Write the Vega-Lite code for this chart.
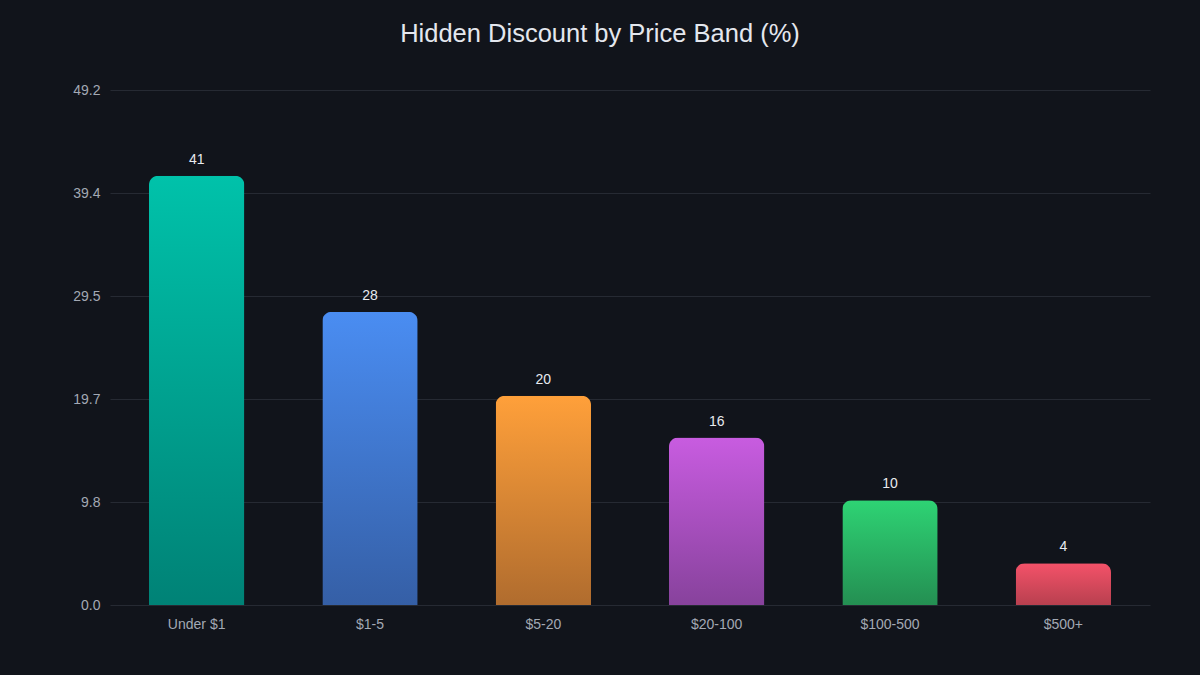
{
  "$schema": "https://vega.github.io/schema/vega-lite/v6.json",
  "width": 1040,
  "height": 515,
  "autosize": {"type": "none"},
  "padding": {"left": 110, "top": 90, "right": 50, "bottom": 70},
  "background": "#11141b",
  "title": {
    "text": "Hidden Discount by Price Band (%)",
    "font": "Liberation Sans",
    "fontSize": 25.5,
    "fontWeight": "normal",
    "color": "#e4e7ee",
    "anchor": "middle",
    "dx": -30,
    "offset": 36
  },
  "config": {
    "view": {"stroke": null},
    "font": "Liberation Sans"
  },
  "data": {
    "values": [
      {"band": "Under $1", "value": 41},
      {"band": "$1-5", "value": 28},
      {"band": "$5-20", "value": 20},
      {"band": "$20-100", "value": 16},
      {"band": "$100-500", "value": 10},
      {"band": "$500+", "value": 4}
    ]
  },
  "encoding": {
    "x": {
      "field": "band",
      "type": "nominal",
      "sort": null,
      "scale": {"paddingInner": 0.45, "paddingOuter": 0.225},
      "axis": {
        "title": null,
        "labelAngle": 0,
        "labelColor": "#a3a9b4",
        "labelFontSize": 14,
        "labelPadding": 12,
        "ticks": false,
        "domain": false,
        "grid": false
      }
    },
    "y": {
      "field": "value",
      "type": "quantitative",
      "scale": {"domain": [0, 49.2], "nice": false},
      "axis": {
        "title": null,
        "values": [0, 9.84, 19.68, 29.52, 39.36, 49.2],
        "format": ".1f",
        "labelColor": "#a3a9b4",
        "labelFontSize": 14,
        "labelPadding": 10,
        "ticks": false,
        "domain": false,
        "grid": true,
        "gridColor": "#262a33",
        "gridWidth": 1
      }
    }
  },
  "layer": [
    {
      "mark": {"type": "bar", "cornerRadiusTopLeft": 9, "cornerRadiusTopRight": 9},
      "encoding": {
        "color": {
          "condition": [
            {"test": "datum.band === 'Under $1'", "value": {"gradient": "linear", "x1": 0, "y1": 0, "x2": 0, "y2": 1, "stops": [{"offset": 0, "color": "#00c2aa"}, {"offset": 1, "color": "#008276"}]}},
            {"test": "datum.band === '$1-5'", "value": {"gradient": "linear", "x1": 0, "y1": 0, "x2": 0, "y2": 1, "stops": [{"offset": 0, "color": "#4a8df2"}, {"offset": 1, "color": "#355fa6"}]}},
            {"test": "datum.band === '$5-20'", "value": {"gradient": "linear", "x1": 0, "y1": 0, "x2": 0, "y2": 1, "stops": [{"offset": 0, "color": "#ffa03a"}, {"offset": 1, "color": "#b06c2e"}]}},
            {"test": "datum.band === '$20-100'", "value": {"gradient": "linear", "x1": 0, "y1": 0, "x2": 0, "y2": 1, "stops": [{"offset": 0, "color": "#c85ce0"}, {"offset": 1, "color": "#87429c"}]}},
            {"test": "datum.band === '$100-500'", "value": {"gradient": "linear", "x1": 0, "y1": 0, "x2": 0, "y2": 1, "stops": [{"offset": 0, "color": "#2ed374"}, {"offset": 1, "color": "#248f52"}]}}
          ],
          "value": {"gradient": "linear", "x1": 0, "y1": 0, "x2": 0, "y2": 1, "stops": [{"offset": 0, "color": "#f45269"}, {"offset": 1, "color": "#b8404f"}]}
        }
      }
    },
    {
      "mark": {"type": "text", "baseline": "bottom", "dy": -9, "fontSize": 14, "color": "#e8eaef"},
      "encoding": {
        "text": {"field": "value", "type": "quantitative"}
      }
    }
  ]
}
